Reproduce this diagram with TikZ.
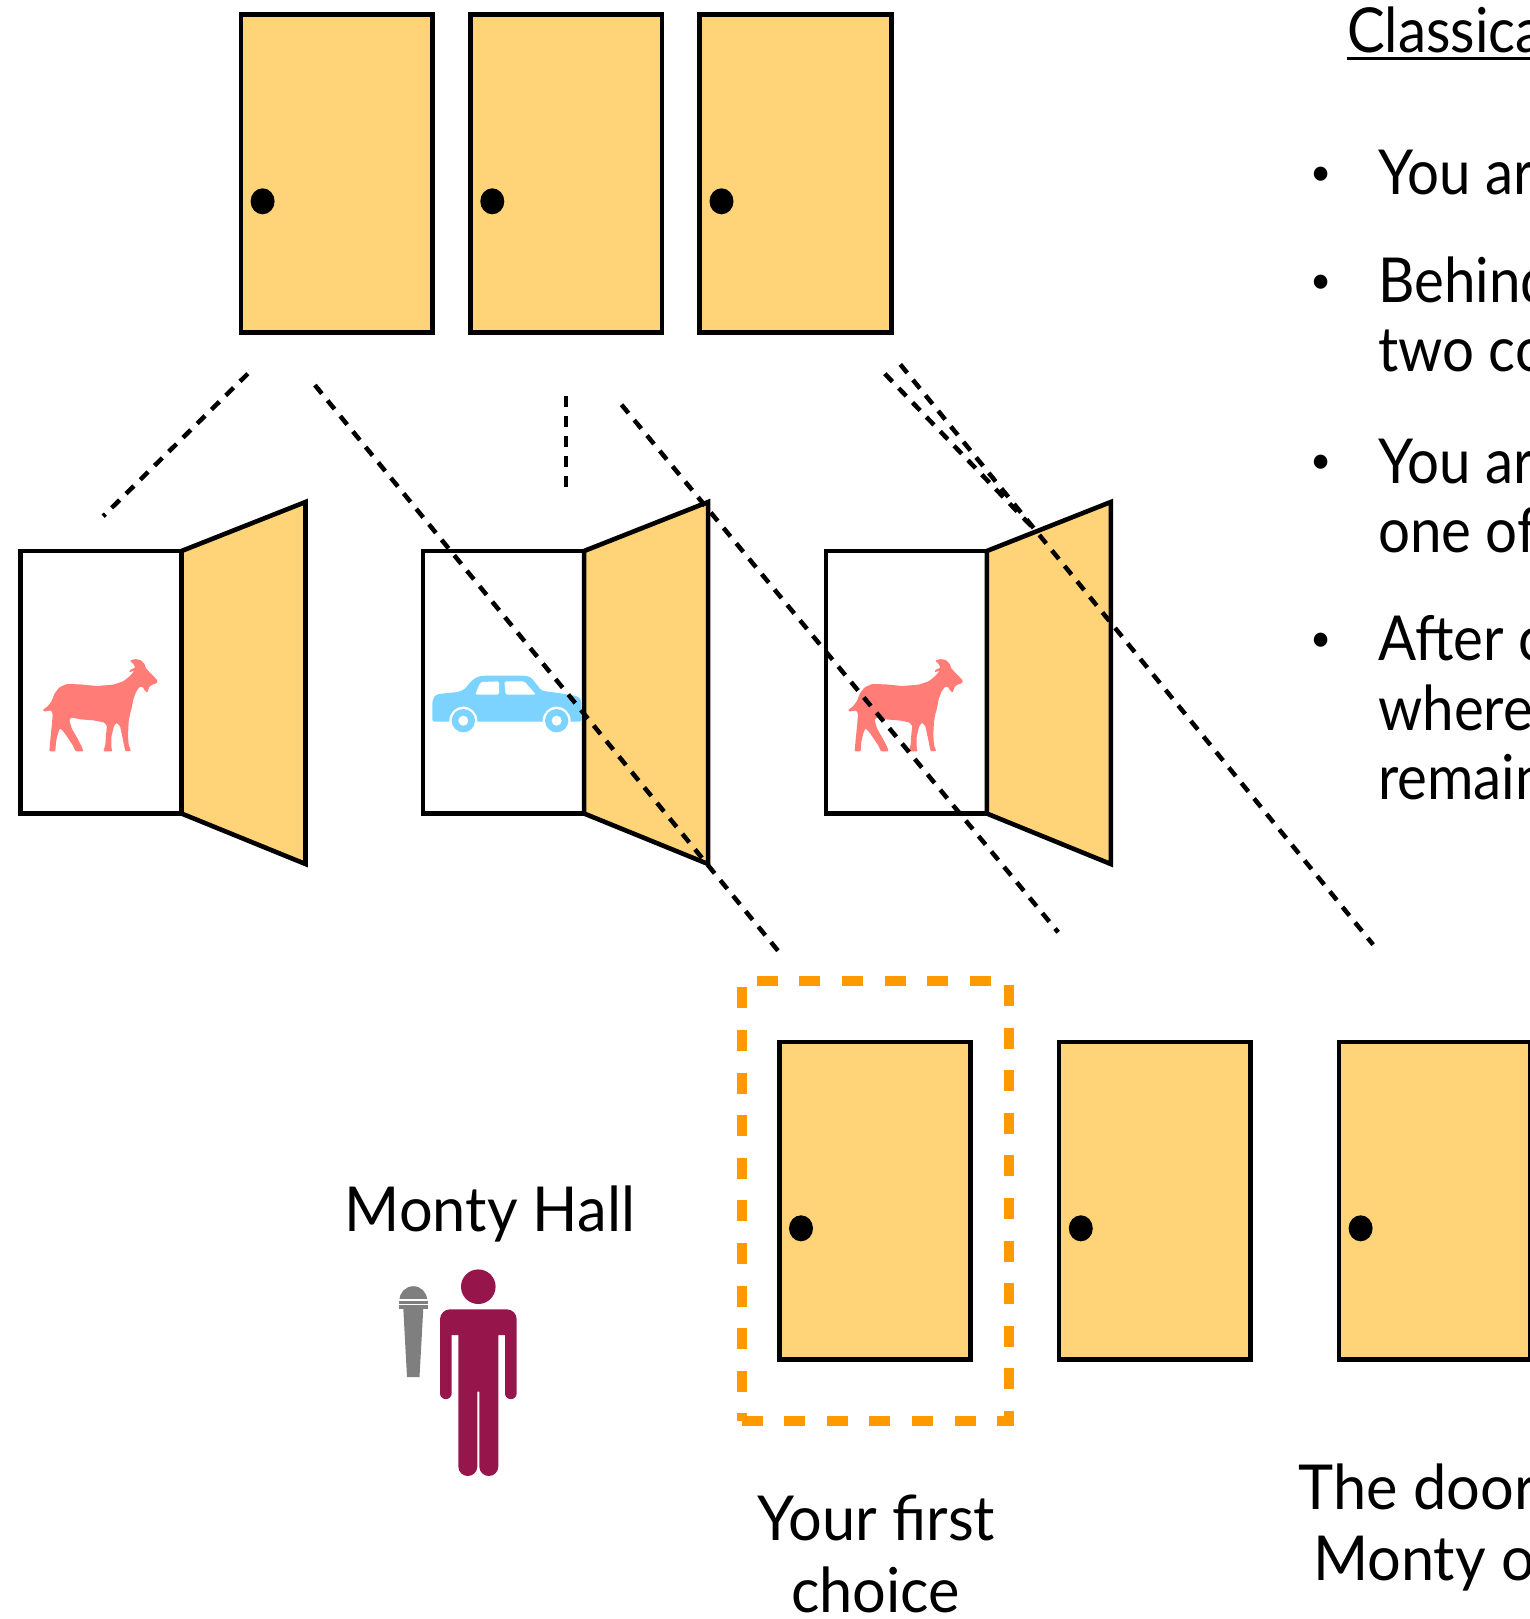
\documentclass[tikz,border=0pt]{standalone}
\usepackage{fontspec}
\setmainfont{Lato}[FakeStretch=0.96]
\newfontfamily\rulesfont{Lato}[FakeStretch=0.91]
\usetikzlibrary{calc}

\definecolor{doorfill}{RGB}{255,212,121}
\definecolor{goatred}{RGB}{255,125,118}
\definecolor{carblue}{RGB}{125,211,255}
\definecolor{hostred}{RGB}{150,22,76}
\definecolor{micgray}{RGB}{127,127,127}
\definecolor{pickorange}{RGB}{255,153,0}

\tikzset{
  doorbox/.style={draw=black, line width=2.3pt, fill=doorfill,
    minimum width=95.75pt, minimum height=158.75pt, inner sep=0pt, outer sep=0pt},
  framebox/.style={draw=black, line width=2.3pt, fill=white,
    minimum width=80.5pt, minimum height=131.25pt, inner sep=0pt, outer sep=0pt},
  leaf/.style={draw=black, line width=2.3pt, fill=doorfill, line join=miter},
  link/.style={draw=black, line width=2.25pt, dash pattern=on 5.5pt off 4.5pt},
  pickbox/.style={draw=pickorange, line width=5pt, dash pattern=on 10.5pt off 10.8pt,
    minimum width=133.5pt, minimum height=219.75pt, inner sep=0pt},
  lbl/.style={font=\fontsize{31}{37}\selectfont, inner sep=0pt, outer sep=0pt},
  rule/.style={font=\rulesfont\fontsize{31}{37}\selectfont, inner sep=0pt, outer sep=0pt},
  dot/.style={font=\fontsize{19}{19}\selectfont, inner sep=0pt, outer sep=0pt},
  knob/.style={fill=black},
  goat/.pic={
    \fill[goatred, rounded corners=0.5pt]
      (38,210) -- (52,200) -- (64,185) -- (74,160) -- (88,142) -- (110,132)
      -- (150,133) -- (200,138) -- (250,134) -- (280,124) -- (300,108)
      -- (313,92) -- (297,97) -- (301,89) -- (316,83) -- (309,70) -- (299,62)
      -- (315,57) -- (332,60) -- (344,72) -- (347,84) -- (360,98) -- (372,110)
      -- (383,122) -- (380,130) -- (368,133) -- (358,140) -- (352,158)
      -- (343,150) -- (338,140) -- (328,141) -- (318,156) -- (310,178)
      -- (305,205) -- (300,222) -- (296,245) -- (294,285) -- (296,315)
      -- (303,333) -- (286,334) -- (282,315) -- (276,285) -- (270,258)
      -- (260,248) -- (252,258) -- (244,290) -- (244,322) -- (247,334)
      -- (220,334) -- (226,315) -- (228,285) -- (231,258) -- (222,247)
      -- (190,241) -- (150,238) -- (125,232) -- (118,240) -- (125,265)
      -- (145,300) -- (156,322) -- (160,334) -- (137,334) -- (128,315)
      -- (110,288) -- (98,272) -- (90,265) -- (84,280) -- (78,305)
      -- (76,334) -- (58,334) -- (60,310) -- (63,280) -- (66,250)
      -- (68,225) -- (65,212) -- (55,212) -- (42,215) -- cycle;
  },
  car/.pic={
    \fill[carblue, rounded corners=1.2pt]
      (22,185) -- (22,125) -- (28,108) -- (40,102) -- (100,96) -- (118,88)
      -- (140,62) -- (158,50) -- (175,47) -- (300,47) -- (318,52) -- (350,92)
      -- (420,102) -- (455,108) -- (468,118) -- (470,185) -- cycle;
    \fill[white, rounded corners=0.8pt]
      (150,104) -- (167,66) -- (222,64) -- (222,104) -- cycle;
    \fill[white, rounded corners=0.8pt]
      (238,64) -- (298,64) -- (333,104) -- (242,104) -- cycle;
    \foreach \cx in {115,395} {
      \fill[white] (\cx,182) circle[radius=42];
      \fill[carblue] (\cx,182) circle[radius=35];
      \fill[white] (\cx,182) circle[radius=15];
    }
  },
}

\begin{document}
\begin{tikzpicture}[x=0.5pt, y=-0.5pt]
  \useasboundingbox (0,0) rectangle (1530,1619);
  \clip (0,0) rectangle (1530,1619);

  % three closed doors at the top
  \foreach \n/\cx in {t1/336.6, t2/566.3, t3/795.5} {
    \node[doorbox] (\n) at (\cx,173.5) {};
    \fill[knob] ([shift={(-74,27.8)}]\n.center) ellipse[x radius=12, y radius=13];
  }

  % the three doors opened: frame, prize, swung leaf
  \foreach \n/\cx in {f1/101, f2/503.6, f3/906.3} {
    \node[framebox] (\n) at (\cx,682.25) {};
  }
  \pic[scale=1/3] at (30,640) {goat};
  \pic[scale=1/3] at (425,660) {car};
  \pic[scale=1/3] at (835.3,640) {goat};
  \foreach \n in {f1,f2,f3} {
    \draw[leaf] (\n.north east) -- ++(124,-49) -- ++(0,362) -- (\n.south east) -- cycle;
  }

  % the player's pick and the three closed doors below
  \node[pickbox] (choice) at (875,1200.75) {};
  \foreach \n/\cx in {d1/875, d2/1154.8, d3/1434.6} {
    \node[doorbox] (\n) at (\cx,1200.9) {};
    \fill[knob] ([shift={(-74,27.4)}]\n.center) ellipse[x radius=12, y radius=13];
  }

  % the host with his microphone
  \fill[hostred] (478.3,1286.7) circle[radius=17.3];
  \fill[hostred]
    (440,1319.3) arc[start angle=180, end angle=270, radius=10]
    -- (506.7,1309.3) arc[start angle=270, end angle=360, radius=10]
    -- (516.7,1393.3) arc[start angle=0, end angle=180, radius=5.85]
    -- (505,1335) -- (498.3,1335)
    -- (498.3,1466.5) arc[start angle=0, end angle=180, radius=9.5]
    -- (479.3,1391.7) -- (477.3,1391.7)
    -- (477.3,1466.5) arc[start angle=0, end angle=180, radius=9.5]
    -- (458.3,1335) -- (451.7,1335)
    -- (451.7,1393.3) arc[start angle=0, end angle=180, radius=5.85]
    -- cycle;
  \fill[micgray] (399.5,1300) arc[start angle=180, end angle=360, radius=13.8] -- cycle;
  \fill[micgray] (398.5,1300) rectangle (428,1308.5);
  \fill[micgray] (403.3,1308.5) -- (423.3,1308.5) -- (419.5,1377) -- (407,1377) -- cycle;
  \draw[white, line width=0.6pt] (398.5,1300) -- (428,1300);
  \draw[white, line width=0.6pt] (398.5,1304.5) -- (428,1304.5);

  % labels
  \node[lbl, anchor=base] (host) at (489.9,1231.6) {Monty Hall};
  \node[lbl, anchor=base] (pickA) at (876.5,1540.3) {Your first};
  \node[lbl, anchor=base] (pickB) at (875.5,1612.6) {choice};
  \node[lbl, anchor=base west] (openA) at (1298.8,1509.5) {The door};
  \node[lbl, anchor=base west] (openB) at (1313,1580.5) {Monty o};

  % rules column
  \node[rule, anchor=base west] (title) at (1347.3,52.7) {Classical};
  \draw[line width=1.5pt] ([yshift=-3.1pt]title.base west) -- ++(200,0);
  \node[rule, anchor=base west] (r1) at (1378.3,194.1) {You ar};
  \node[rule, anchor=base west] (r2) at (1378.3,302.5) {Behind};
  \node[rule, anchor=base west] (r3) at (1378.3,371.7) {two co};
  \node[rule, anchor=base west] (r4) at (1378.3,483) {You ar};
  \node[rule, anchor=base west] (r5) at (1378.3,552.3) {one of};
  \node[rule, anchor=base west] (r6) at (1378.3,660.7) {After c};
  \node[rule, anchor=base west] (r7) at (1378.3,730) {where};
  \node[rule, anchor=base west] (r8) at (1378.3,799) {remain};
  \foreach \n/\yb in {b1/185, b2/293.4, b3/473.9, b4/651.6} {
    \node[dot, anchor=base] (\n) at (1321.5,\yb) {•};
  }

  % dotted guides between the door rows
  \coordinate (a1) at (247.8,373.7);  \coordinate (e1) at (103.2,516.2);
  \coordinate (a2) at (314.9,385.1);  \coordinate (e2) at (781.5,955);
  \coordinate (a3) at (565.8,396.4);  \coordinate (e3) at (565.8,493.5);
  \coordinate (a4) at (621.5,404.7);  \coordinate (e4) at (1058.2,932.3);
  \coordinate (a5) at (884.8,373.7);  \coordinate (e5) at (1035,530);
  \coordinate (a6) at (900.3,364.4);  \coordinate (e6) at (1373.1,944.6);
  \foreach \k in {1,...,6} {
    \draw[link] (a\k) -- (e\k);
  }
\end{tikzpicture}
\end{document}
